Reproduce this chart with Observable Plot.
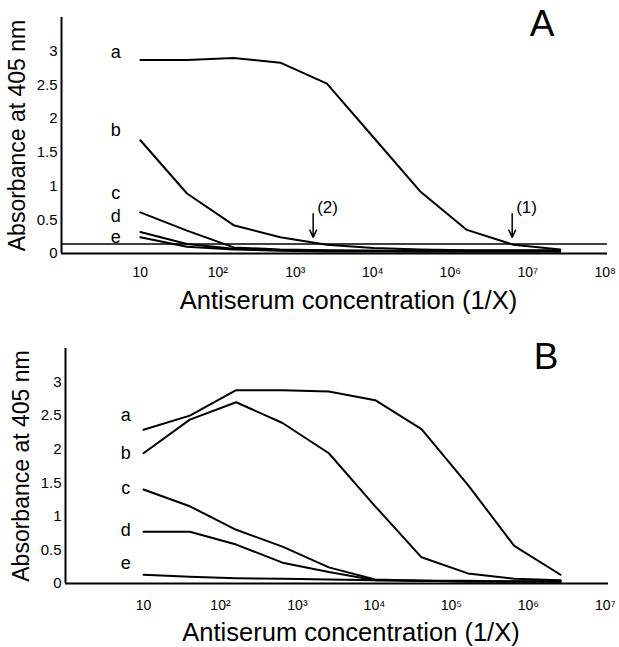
<!DOCTYPE html>
<html>
<head>
<meta charset="utf-8">
<script src="https://cdn.jsdelivr.net/npm/d3@7"></script>
<script src="https://cdn.jsdelivr.net/npm/@observablehq/plot@0.6"></script>
<style>
  html, body { margin: 0; padding: 0; background: white; }
  #chart { width: 619px; }
  #chart svg { display: block; }
</style>
</head>
<body>
<div id="chart"></div>
<script>
// ---- data ----
const dilutions = [10, 40, 160, 640, 2560, 10240, 40960, 163840, 655360, 2621440];
const seriesNames = ["a", "b", "c", "d", "e"];

// Panel A absorbance values
const A_a = [2.87, 2.87, 2.90, 2.83, 2.52, 1.72, 0.92, 0.35, 0.13, 0.06];
const A_b = [1.68, 0.89, 0.42, 0.24, 0.13, 0.08, 0.06, 0.05, 0.05, 0.05];
const A_c = [0.61, 0.34, 0.09, 0.06, 0.05, 0.04, 0.04, 0.04, 0.04, 0.04];
const A_d = [0.32, 0.14, 0.07, 0.05, 0.04, 0.04, 0.03, 0.03, 0.03, 0.03];
const A_e = [0.24, 0.10, 0.06, 0.04, 0.03, 0.03, 0.03, 0.03, 0.03, 0.03];

// Panel B absorbance values
const B_a = [2.29, 2.50, 2.88, 2.88, 2.86, 2.73, 2.30, 1.47, 0.56, 0.13];
const B_b = [1.94, 2.44, 2.70, 2.39, 1.94, 1.15, 0.39, 0.15, 0.07, 0.05];
const B_c = [1.40, 1.15, 0.80, 0.55, 0.24, 0.06, 0.04, 0.03, 0.03, 0.03];
const B_d = [0.77, 0.77, 0.58, 0.31, 0.17, 0.05, 0.04, 0.03, 0.03, 0.03];
const B_e = [0.13, 0.10, 0.08, 0.07, 0.06, 0.05, 0.04, 0.04, 0.03, 0.03];

const cutoffA = 0.14;

// tick labels
const xTickValues = [1e1, 1e2, 1e3, 1e4, 1e5, 1e6, 1e7];
const xTickLabelsA = ["10", "10²", "10³", "10⁴", "10⁶", "10⁷", "10⁸"];
const xTickLabelsB = ["10", "10²", "10³", "10⁴", "10⁵", "10⁶", "10⁷"];
const yTickValues = [0, 0.5, 1, 1.5, 2, 2.5, 3];

// curve label anchors (x in dilution units, y in absorbance)
const labelXA = 4.8;
const labelYA = [2.99, 1.83, 0.90, 0.55, 0.24];
const labelXB = 5.9;
const labelYB = [2.50, 1.94, 1.42, 0.80, 0.30];

// arrows in panel A
const arrowNames = ["(2)", "(1)"];
const arrowX = [1700, 630000];

const xTitle = "Antiserum concentration (1/X)";
const yTitle = "Absorbance at 405 nm";

// ---- build ----
function rows(arrs) {
  const out = [];
  arrs.forEach((vals, k) => vals.forEach((v, i) => out.push({series: seriesNames[k], x: dilutions[i], y: v})));
  return out;
}

const font = "'Liberation Sans', Arial, Helvetica, sans-serif";

function panel({arrs, letter, tickLabels, labelX, labelY, margins, xDomain, height, tickPad, titleDy, extra, letterPos}) {
  const data = rows(arrs);
  return Plot.plot({
    width: 619,
    height,
    marginLeft: margins[0],
    marginRight: margins[1],
    marginTop: margins[2],
    marginBottom: margins[3],
    style: {fontFamily: font, background: "white", color: "black", overflow: "visible"},
    x: {type: "log", domain: xDomain},
    y: {domain: [0, 3.5]},
    marks: [
      Plot.axisY({ticks: yTickValues, tickSize: 0, tickPadding: 4, fontSize: 15, label: null, tickFormat: d3.format("")}),
      Plot.axisX({ticks: xTickValues, tickSize: 0, tickPadding: tickPad, fontSize: 14, label: null,
        tickFormat: (d) => tickLabels[xTickValues.indexOf(d)]}),
      Plot.ruleX([xDomain[0]], {stroke: "black", strokeWidth: 2}),
      Plot.ruleY([0], {stroke: "black", strokeWidth: 2}),
      ...extra,
      Plot.line(data, {x: "x", y: "y", z: "series", stroke: "black", strokeWidth: 2}),
      Plot.text(seriesNames, {x: () => labelX, y: (d, i) => labelY[i], text: (d) => d, fontSize: 18, fill: "black"}),
      Plot.text([letter], {frameAnchor: "top-right", dx: letterPos[0], dy: letterPos[1], fontSize: 37, fill: "black"}),
      Plot.text([xTitle], {frameAnchor: "bottom", lineAnchor: "middle", dx: 14, dy: titleDy, fontSize: 25.5, fill: "black"}),
      Plot.text([yTitle], {frameAnchor: "left", textAnchor: "middle", lineAnchor: "middle", rotate: -90, dx: -44, fontSize: 23, fill: "black"})
    ]
  });
}

const chart = document.getElementById("chart");

chart.appendChild(panel({
  arrs: [A_a, A_b, A_c, A_d, A_e],
  letter: "A",
  tickLabels: xTickLabelsA,
  labelX: labelXA, labelY: labelYA,
  margins: [61, 12, 17, 67],
  xDomain: [0.96, 1.07e7],
  height: 320,
  tickPad: 14,
  titleDy: 47,
  letterPos: [-53, -8],
  extra: [
    Plot.ruleY([cutoffA], {stroke: "black", strokeWidth: 1.5}),
    Plot.arrow(arrowX, {x1: (d) => d, x2: (d) => d, y1: 0.59, y2: 0.24, stroke: "black", strokeWidth: 1.5, headLength: 9, headAngle: 50}),
    Plot.text(arrowNames, {x: (d, i) => arrowX[i], y: 0.68, text: (d) => d, textAnchor: "start", dx: 4, fontSize: 17, fill: "black"})
  ]
}));

chart.appendChild(panel({
  arrs: [B_a, B_b, B_c, B_d, B_e],
  letter: "B",
  tickLabels: xTickLabelsB,
  labelX: labelXB, labelY: labelYB,
  margins: [65, 11, 28, 64],
  xDomain: [0.97, 1.1e7],
  height: 327,
  tickPad: 17,
  titleDy: 49,
  letterPos: [-50, -6],
  extra: []
}));
</script>
</body>
</html>
